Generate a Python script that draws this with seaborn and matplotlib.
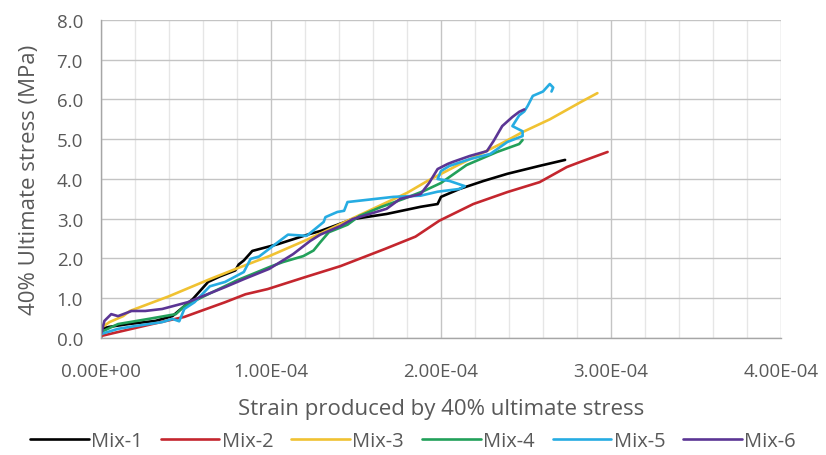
import numpy as np
import pandas as pd
import seaborn as sns
import matplotlib
matplotlib.use("Agg")
import matplotlib.pyplot as plt
from matplotlib.ticker import FuncFormatter, MultipleLocator

# Strain values are stored in units of 1e-4; stress in MPa
mix_names = ["Mix-1", "Mix-2", "Mix-3", "Mix-4", "Mix-5", "Mix-6"]
mix_colors = ["#000000", "#c4262e", "#f0c232", "#22a05a", "#26ace2", "#5b3594"]

strain_mix1 = [0.0, 0.0, 0.05, 0.16, 0.32, 0.42, 0.54, 0.63, 0.70, 0.79, 0.81, 0.84,
               0.89, 1.04, 1.23, 1.29, 1.48, 1.68, 1.88, 1.98, 2.0, 2.11, 2.25,
               2.39, 2.58, 2.73]
stress_mix1 = [0.0, 0.23, 0.28, 0.35, 0.43, 0.55, 0.98, 1.41, 1.55, 1.7, 1.85, 1.95,
               2.19, 2.36, 2.62, 2.69, 2.99, 3.12, 3.3, 3.37, 3.55, 3.75, 3.95,
               4.13, 4.33, 4.48]

strain_mix2 = [0.0, 0.15, 0.3, 0.49, 0.6, 0.73, 0.85, 0.98, 1.2, 1.41, 1.67, 1.85,
               1.99, 2.19, 2.39, 2.58, 2.74, 2.82, 2.98]
stress_mix2 = [0.05, 0.2, 0.35, 0.53, 0.7, 0.9, 1.1, 1.23, 1.53, 1.81, 2.24, 2.55,
               2.95, 3.37, 3.67, 3.92, 4.3, 4.43, 4.68]

strain_mix3 = [0.0, 0.05, 0.13, 0.17, 0.4, 0.64, 0.8, 0.99, 1.2, 1.4, 1.6, 1.8, 1.92,
               2.1, 2.35, 2.48, 2.64, 2.82, 2.92]
stress_mix3 = [0.25, 0.4, 0.55, 0.68, 1.05, 1.48, 1.75, 2.06, 2.45, 2.85, 3.25, 3.65,
               3.95, 4.35, 4.88, 5.18, 5.5, 5.93, 6.16]

strain_mix4 = [0.0, 0.1, 0.28, 0.44, 0.49, 0.61, 0.8, 1.0, 1.07, 1.19, 1.25, 1.29,
               1.34, 1.45, 1.52, 1.65, 1.78, 1.9, 2.0, 2.15, 2.33, 2.46, 2.48]
stress_mix4 = [0.15, 0.35, 0.48, 0.6, 0.8, 1.06, 1.45, 1.8, 1.91, 2.06, 2.2, 2.41,
               2.66, 2.85, 3.07, 3.3, 3.5, 3.7, 3.9, 4.35, 4.68, 4.88, 4.98]

strain_mix5 = [0.0, 0.1, 0.2, 0.36, 0.42, 0.46, 0.49, 0.55, 0.64, 0.73, 0.84, 0.88,
               0.93, 1.05, 1.1, 1.21, 1.31, 1.32, 1.39, 1.43, 1.45, 1.72, 1.88, 1.98,
               2.11, 2.14, 2.05, 1.98, 2.0, 2.05, 2.17, 2.29, 2.39, 2.48, 2.48, 2.42,
               2.46, 2.49, 2.51, 2.54, 2.6, 2.64, 2.66, 2.65]
stress_mix5 = [0.1, 0.23, 0.3, 0.4, 0.48, 0.42, 0.73, 0.9, 1.3, 1.41, 1.66, 1.99,
               2.05, 2.44, 2.6, 2.57, 2.92, 3.04, 3.17, 3.2, 3.42, 3.55, 3.58, 3.68,
               3.75, 3.82, 3.95, 4.0, 4.2, 4.33, 4.5, 4.63, 4.93, 5.08, 5.2, 5.33,
               5.6, 5.7, 5.84, 6.09, 6.2, 6.39, 6.3, 6.2]

strain_mix6 = [0.0, 0.02, 0.06, 0.1, 0.18, 0.26, 0.36, 0.51, 0.73, 0.84, 0.99, 1.13,
               1.23, 1.29, 1.41, 1.48, 1.68, 1.76, 1.88, 1.93, 1.98, 2.04, 2.07, 2.17,
               2.27, 2.31, 2.36, 2.42, 2.46, 2.49]
stress_mix6 = [0.1, 0.43, 0.6, 0.55, 0.68, 0.68, 0.73, 0.9, 1.28, 1.48, 1.74, 2.11,
               2.44, 2.6, 2.82, 2.99, 3.25, 3.5, 3.62, 3.9, 4.25, 4.38, 4.43, 4.58,
               4.7, 4.96, 5.33, 5.56, 5.69, 5.75]

strains = [strain_mix1, strain_mix2, strain_mix3, strain_mix4, strain_mix5, strain_mix6]
stresses = [stress_mix1, stress_mix2, stress_mix3, stress_mix4, stress_mix5, stress_mix6]

frames = []
for name, sx, sy in zip(mix_names, strains, stresses):
    frames.append(pd.DataFrame({"mix": name,
                                "strain": np.array(sx) * 1e-4,
                                "stress": sy}))
df = pd.concat(frames, ignore_index=True)

sns.set_theme(style="white")
plt.rcParams["font.family"] = ["Open Sans", "DejaVu Sans"]

text_color = "#595959"
tick_fs = 13.5
label_fs = 16
legend_fs = 14.5
fig = plt.figure(figsize=(8.26, 4.56), dpi=100)
ax = fig.add_axes([0.1223, 0.2566, 0.8232, 0.6974])

sns.lineplot(data=df, x="strain", y="stress", hue="mix", hue_order=mix_names,
             palette=dict(zip(mix_names, mix_colors)), sort=False, estimator=None,
             linewidth=1.9, ax=ax)

handles, labels = ax.get_legend_handles_labels()
ax.get_legend().remove()

ax.set_xlim(0, 4e-4)
ax.set_ylim(0, 8)
ax.xaxis.set_major_locator(MultipleLocator(1e-4))
ax.xaxis.set_minor_locator(MultipleLocator(2e-5))
ax.yaxis.set_major_locator(MultipleLocator(1.0))
ax.xaxis.set_major_formatter(FuncFormatter(lambda v, p: f"{v:.2E}"))
ax.yaxis.set_major_formatter(FuncFormatter(lambda v, p: f"{v:.1f}"))

ax.grid(which="major", axis="both", color="#c4c4c4", linewidth=1.0)
ax.grid(which="minor", axis="x", color="#e6e6e6", linewidth=1.0)
ax.set_axisbelow(True)

for side in ["top", "right"]:
    ax.spines[side].set_visible(False)
for side in ["left", "bottom"]:
    ax.spines[side].set_color("#a6a6a6")
    ax.spines[side].set_linewidth(1.0)

ax.tick_params(axis="both", which="major", direction="out", length=5, width=1,
               color="#a6a6a6", labelsize=tick_fs, labelcolor=text_color)
ax.tick_params(axis="x", which="major", pad=12)
ax.tick_params(axis="y", which="major", pad=8)
ax.tick_params(axis="x", which="minor", length=0)

ax.set_xlabel("Strain produced by 40% ultimate stress", fontsize=label_fs,
              color=text_color, labelpad=13)
ax.set_ylabel("40% Ultimate stress (MPa)", fontsize=label_fs, color=text_color,
              labelpad=12)

fig.legend(handles, labels, loc="lower center", bbox_to_anchor=(0.5, -0.03),
           ncol=6, frameon=False, fontsize=legend_fs, handlelength=2.9,
           handletextpad=0.12, columnspacing=0.9, labelcolor=text_color)

fig.savefig("out.png", dpi=100)
